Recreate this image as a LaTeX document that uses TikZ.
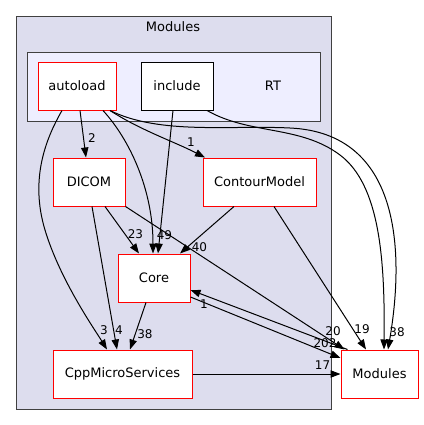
\documentclass[tikz,border=0pt]{standalone}
\usepackage{fontspec}
\setmainfont{DejaVu Sans}
\usetikzlibrary{arrows.meta,calc}
\definecolor{clusterA}{HTML}{DDDDEE}
\definecolor{clusterB}{HTML}{EEEEFF}
\definecolor{clusterline}{HTML}{404040}
\begin{document}
\begin{tikzpicture}[x=0.75pt,y=-0.75pt,
  box/.style={draw=red, fill=white, line width=0.75pt, minimum height=36pt, inner sep=0pt, font=\fontsize{9.75}{12}\selectfont},
  plainbox/.style={box, draw=black},
  lbl/.style={inner sep=0pt, font=\fontsize{9}{11}\selectfont},
  dep/.style={line width=0.75pt, -{Triangle[length=7.5pt,width=5.5pt]}},
  clus/.style={draw=clusterline, line width=0.75pt}]
\useasboundingbox (0,0) rectangle (424,425);
\fill[white] (0,0) rectangle (424,425);
% clusters
\draw[clus, fill=clusterA] (16,16) rectangle (331,409);
\node[lbl, font=\fontsize{9.75}{12}\selectfont] (ttl) at (173,27) {Modules};
\draw[clus, fill=clusterB] (27,52) rectangle (320,121);
\node[lbl, font=\fontsize{9.75}{12}\selectfont] (rt) at (273,86) {RT};
% nodes
\node[box, minimum width=58.5pt] (autoload) at (77,86) {autoload};
\node[plainbox, minimum width=54pt] (include) at (177,86) {include};
\node[box, minimum width=54pt] (DICOM) at (89,182) {DICOM};
\node[box, minimum width=84.75pt] (ContourModel) at (259.5,182) {ContourModel};
\node[box, minimum width=54pt] (Core) at (154,278) {Core};
\node[box, minimum width=104.25pt] (CppMS) at (122.5,374) {CppMicroServices};
\node[box, minimum width=57.75pt] (Mods) at (379.5,374) {Modules};
% edges
\draw[dep] ($(autoload.south)+(3,0)$) -- ($(DICOM.north)+(-3,0)$);
\node[lbl] (l1) at (92,138) {2};
\draw[dep] ($(autoload.south)+(33,0)$) .. controls (140,130) and (175,142) .. ($(ContourModel.north)+(-54.5,0)$);
\node[lbl] (l2) at (191,142) {1};
\draw[dep] ($(autoload.south)+(26,0)$) .. controls (130,140) and (153,190) .. ($(Core.north)+(-1,0)$);
\draw[dep] ($(include.south)+(-4,0)$) -- ($(Core.north)+(4,0)$);
\node[lbl] (l3) at (164.5,235) {49};
\draw[dep] ($(autoload.south)+(-15,0)$) .. controls (45,140) and (30,180) .. (45,230) .. controls (60,280) and (95,330) .. ($(CppMS.north)+(-15.5,0)$);
\node[lbl] (l4) at (104,330) {3};
\draw[dep] ($(DICOM.south)+(3,0)$) -- ($(CppMS.north)+(-5.5,0)$);
\node[lbl] (l5) at (119,330) {4};
\draw[dep] ($(DICOM.south)+(16,0)$) -- ($(Core.north)+(-15,0)$);
\node[lbl] (l6) at (135.5,234) {23};
\draw[dep] (DICOM.south east) -- ($(Mods.north west)+(4,0)$);
\node[lbl] (l7) at (333,331) {20};
\draw[dep] ($(ContourModel.south)+(-25.5,0)$) -- ($(Core.north)+(26,0)$);
\node[lbl] (l8) at (199.5,247) {40};
\draw[dep] ($(ContourModel.south)+(14.5,0)$) -- ($(Mods.north)+(-13.5,0)$);
\node[lbl] (l9) at (362,329.5) {19};
\draw[dep] ($(autoload.south)+(33,0)$) .. controls (160,135) and (230,125) .. (290,128) .. controls (400,133) and (405,250) .. ($(Mods.north)+(8.5,0)$);
\node[lbl] (l10) at (397,332) {38};
\draw[dep] ($(include.south)+(30,0)$) .. controls (250,135) and (300,125) .. (340,155) .. controls (380,185) and (385,260) .. ($(Mods.north)+(4.5,0)$);
\draw[dep] ($(Core.south)+(-8,0)$) -- ($(CppMS.north)+(7.5,0)$);
\node[lbl] (l11) at (145,334) {38};
\draw[dep] (CppMS.east) -- (Mods.west);
\node[lbl] (l12) at (322.5,365) {17};
\draw[dep] ($(Core.east)+(0,19)$) -- ($(Mods.west)+(0,-16)$);
\node[lbl] (l13) at (325,343) {202};
\draw[dep] ($(Mods.north west)+(7,0)$) -- ($(Core.east)+(0,12)$);
\node[lbl] (l14) at (204,304) {1};
\end{tikzpicture}
\end{document}
